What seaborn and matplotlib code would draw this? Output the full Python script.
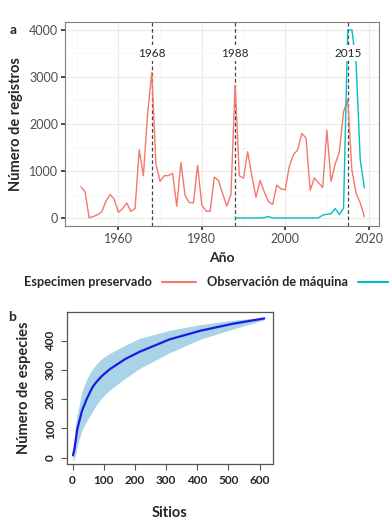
import matplotlib
matplotlib.use("Agg")
import matplotlib.pyplot as plt
import numpy as np
import pandas as pd
import seaborn as sns

sns.set_theme(style="whitegrid")
plt.rcParams['font.family'] = ['Lato', 'DejaVu Sans']

# panel a: records per year
years_pres = list(range(1951, 2020))
preservado = [666, 560, 5, 30, 70, 130, 350, 500, 400, 120,
              200, 320, 140, 200, 1450, 900, 2200, 3100, 1150, 780,
              900, 900, 950, 250, 1180, 480, 330, 320, 1120, 280,
              150, 140, 870, 800, 520, 250, 500, 2830, 900, 850,
              1410, 900, 440, 800, 550, 350, 290, 700, 620, 600,
              1100, 1350, 1450, 1800, 1700, 590, 850, 750, 650, 1870,
              780, 1150, 1410, 2260, 2520, 1020, 530, 320, 30]
years_maq = list(range(1988, 2020))
maquina = [0, 0, 0, 0, 0, 0, 0, 10, 30, 0,
           0, 0, 0, 0, 0, 0, 0, 0, 0, 0,
           5, 60, 80, 90, 200, 70, 210, 4000, 4000, 3300,
           1240, 640]
event_years = [1968, 1988, 2015]
series_names = ["Especimen preservado", "Observación de máquina"]
series_colors = ["#F8766D", "#00BFC4"]

# panel b: species accumulation curve
sitios = [1, 5, 10, 15, 30, 45, 55, 65, 75, 90, 100, 120, 170, 215, 310, 410, 515, 615]
especies = [8, 25, 60, 98, 160, 200, 222, 243, 257, 275, 285, 303, 338, 362, 404, 434, 458, 476]
especies_hi = [22, 65, 115, 150, 225, 268, 288, 305, 318, 335, 343, 357, 385, 408, 435, 455, 470, 480]
especies_lo = [-10, -5, 15, 40, 95, 125, 143, 160, 178, 200, 212, 232, 272, 305, 358, 405, 440, 471]

df_a = pd.concat([
    pd.DataFrame({"Año": years_pres, "n": preservado, "tipo": series_names[0]}),
    pd.DataFrame({"Año": years_maq, "n": maquina, "tipo": series_names[1]}),
])
df_b = pd.DataFrame({"Sitios": sitios, "esp": especies,
                     "hi": especies_hi, "lo": especies_lo})

W, H = 389, 524
fig = plt.figure(figsize=(W / 100, H / 100), dpi=100)

# ---- panel a
ax = fig.add_axes([65 / W, 1 - 226 / H, 314 / W, 204 / H])
sns.lineplot(data=df_a, x="Año", y="n", hue="tipo", hue_order=series_names,
             palette=series_colors, linewidth=1.0, ax=ax, legend=False)
for yr in event_years:
    ax.axvline(yr, color="#444444", lw=0.9, ls=(0, (3, 2)), zorder=1)
    ax.text(yr, 3510, str(yr), ha="center", va="center", fontsize=8.5,
            bbox=dict(facecolor="white", edgecolor="none", pad=1.5), zorder=3)
ax.set_xlim(1947.2, 2022.5)
ax.set_ylim(-170, 4170)
ax.set_xticks([1960, 1980, 2000, 2020])
ax.set_yticks([0, 1000, 2000, 3000, 4000])
ax.set_xticks([1950, 1970, 1990, 2010], minor=True)
ax.set_yticks([500, 1500, 2500, 3500], minor=True)
ax.grid(which="major", color="#ebebeb", lw=0.8)
ax.grid(which="minor", color="#f5f5f5", lw=0.5)
ax.tick_params(axis="both", which="major", labelsize=9, labelcolor="#4d4d4d",
               length=3, color="#333333", pad=2, bottom=True, left=True)
ax.tick_params(which="minor", length=0)
for s in ax.spines.values():
    s.set_color("#7f7f7f")
    s.set_linewidth(0.8)
ax.set_xlabel("Año", fontsize=10, fontweight="bold", labelpad=5)
ax.set_ylabel("Número de registros", fontsize=10.5, fontweight="bold", labelpad=4)
fig.text(13 / W, 1 - 30 / H, "a", fontsize=10, fontweight="bold", ha="center", va="center")

handles = [plt.Line2D([], [], color=c, lw=1.5) for c in series_colors]
fig.legend(handles, series_names, loc="center", bbox_to_anchor=(208 / W, 1 - 282 / H),
           ncol=2, frameon=False, markerfirst=False, handlelength=2.6,
           columnspacing=0.9, handletextpad=0.8,
           prop={"size": 9.2, "weight": "bold"})

# ---- panel b
bx = fig.add_axes([67 / W, 1 - 464 / H, 206 / W, 152 / H])
bx.fill_between(df_b["Sitios"], df_b["lo"], df_b["hi"], color="#a9d3e6", lw=0)
sns.lineplot(data=df_b, x="Sitios", y="esp", color="#1a1ae6", lw=1.6, ax=bx)
bx.set_facecolor("white")
bx.grid(False)
bx.set_xlim(-18, 643)
bx.set_ylim(-21.5, 498)
bx.set_xticks([0, 100, 200, 300, 400, 500, 600])
bx.set_yticks([0, 100, 200, 300, 400])
for s in bx.spines.values():
    s.set_color("#555555")
    s.set_linewidth(0.9)
bx.tick_params(axis="both", length=4, color="#555555", width=0.8, labelsize=8.5,
               bottom=True, left=True, pad=4)
for lab in bx.get_xticklabels() + bx.get_yticklabels():
    lab.set_fontweight("bold")
for lab in bx.get_yticklabels():
    lab.set_rotation(90)
    lab.set_va("center")
bx.set_xlabel("Sitios", fontsize=10.5, fontweight="bold", labelpad=14)
bx.set_ylabel("Número de especies", fontsize=10.5, fontweight="bold", labelpad=10)
fig.text(12 / W, 1 - 317 / H, "b", fontsize=10, fontweight="bold", ha="center", va="center")

fig.savefig("out.png", dpi=100)
